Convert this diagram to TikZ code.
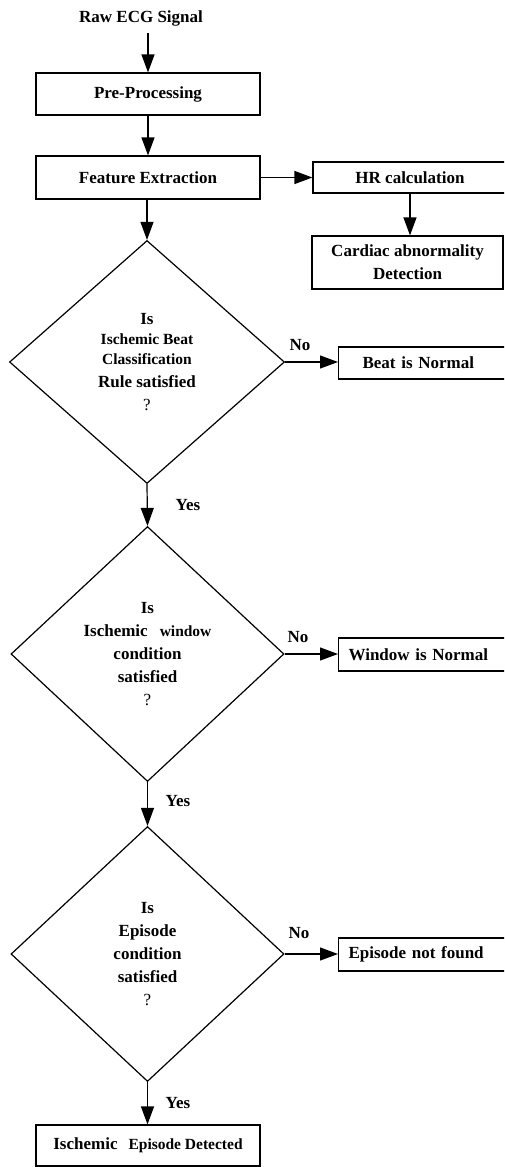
\documentclass[tikz,border=0pt]{standalone}
\usepackage{fontspec}
\setmainfont{Liberation Serif}
\usetikzlibrary{shapes.geometric, arrows.meta}

\newcommand{\smallsz}{\fontsize{15.5}{20}\selectfont}

\begin{document}
\begin{tikzpicture}[
  x=1pt, y=1pt,
  line width=1.2pt,
  >={Triangle[length=18pt, width=13pt]},
  every node/.style = {
    font=\bfseries\fontsize{17}{23}\selectfont,
    align=center,
    inner sep=0pt
  },
  box/.style = {
    shape=rectangle,
    draw,
    minimum width=224pt,
    minimum height=42pt
  },
  sidebox/.style = {
    shape=rectangle,
    draw,
    anchor=west,
    align=left,
    text width=170pt,
    inner xsep=10pt,
    minimum height=33pt
  },
  decision/.style = {
    shape=diamond,
    draw,
    minimum width=273pt,
    minimum height=255pt
  }
]

\useasboundingbox (0,0) rectangle (504,-1167);
\clip (0,0) rectangle (504,-1167);

\node[inner sep=7pt] (raw) at (141,-18) {Raw ECG Signal};
\node[box] (pre) at (148,-94) {Pre-Processing};
\node[box, minimum height=43pt] (feat) at (148,-177.5) {Feature Extraction};
\node[box, minimum width=194pt, minimum height=31pt] (hr) at (410,-177.5) {HR calculation};
\node[box, minimum width=191pt, minimum height=53pt] (card) at (407.5,-262.5)
  {Cardiac abnormality\\Detection};

\node[decision, minimum width=275pt, minimum height=243pt] (d1) at (147,-362)
  {Is\\[-3pt] {\smallsz Ischemic Beat}\\[-3pt] {\smallsz Classification}\\ Rule satisfied\\ {\mdseries ?}};
\node[sidebox, minimum height=32pt] (bnorm) at (338,-363) {\hspace*{14pt}Beat is Normal};
\node (no1) at (300,-345) {No};
\node (yes1) at (188,-505) {Yes};

\node[decision] (d2) at (147.5,-654)
  {Is\\ Ischemic\hspace{12pt}{\smallsz window}\\ condition\\ satisfied\\ {\mdseries ?}};
\node[sidebox] (wnorm) at (338,-654.5) {Window is Normal};
\node (no2) at (298,-637) {No};
\node (yes2) at (178,-801) {Yes};

\node[decision] (d3) at (147.5,-954)
  {Is\\ Episode\\ condition\\ satisfied\\ {\mdseries ?}};
\node[sidebox] (epnf) at (338,-954.5) {Episode not found};
\node (no3) at (299,-933) {No};
\node (yes3) at (178,-1103) {Yes};

\node[box, minimum height=41pt] (final) at (148,-1145.5)
  {Ischemic\hspace{11pt}{\smallsz Episode Detected}};

\draw[->] (raw.south -| pre.north) -- (pre.north);
\draw[->] (pre) -- (feat);
\draw[->] (feat.east) -- (feat.east -| hr.west);
\draw[->] (hr.south) -- (hr.south |- card.north);
\draw[->] (d1.north |- feat.south) -- (d1.north);
\draw[->] (d1.east) -- (d1.east -| bnorm.west);
\draw[->] (d1.south) -- (d2.north);
\draw[->] (d2.east) -- (d2.east -| wnorm.west);
\draw[->] (d2.south) -- (d3.north);
\draw[->] (d3.east) -- (d3.east -| epnf.west);
\draw[->] (d3.south) -- (d3.south |- final.north);

\end{tikzpicture}
\end{document}
